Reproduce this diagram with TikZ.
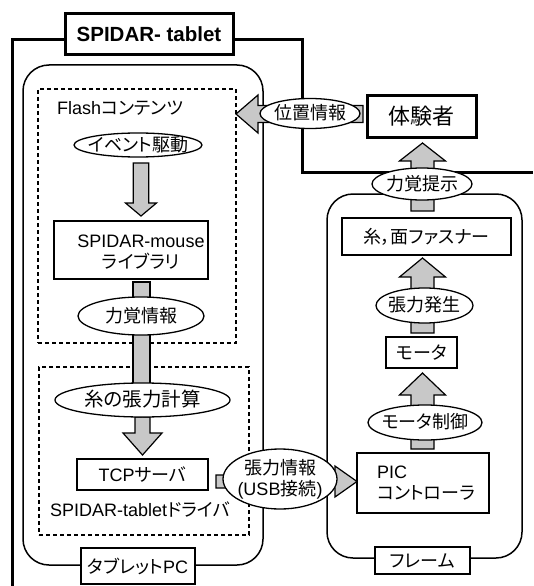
\documentclass[tikz,border=0pt]{standalone}
\usepackage{fontspec}
\setmainfont{Liberation Sans}
\newfontfamily\jp[RawFeature=+palt]{Noto Sans CJK JP}
\usetikzlibrary{shapes.geometric,calc}
\definecolor{agray}{RGB}{200,200,200}
\newcommand\J[1]{{\jp #1}}
\newcommand\zc[1]{\makebox[0pt]{\raisebox{-0.34em}[0pt][0pt]{\begin{tabular}{@{}c@{}}#1\end{tabular}}}}
% block arrow: start, end, shaft half width, head half width, head length
\newcommand\blockarrow[5]{%
  \path ($(#2)!#5!(#1)$) coordinate (#1-hb);
  \filldraw[arr] ($(#1)!#3!90:(#2)$) -- ($(#1-hb)!#3!90:(#2)$) -- ($(#1-hb)!#4!90:(#2)$) -- (#2)
    -- ($(#1-hb)!#4!-90:(#2)$) -- ($(#1-hb)!#3!-90:(#2)$) -- ($(#1)!#3!-90:(#2)$) -- cycle;}
% block shaft: start, end, half width
\newcommand\blockshaft[3]{%
  \filldraw[arr] ($(#1)!#3!90:(#2)$) -- ($(#2)!#3!-90:(#1)$) -- ($(#2)!#3!90:(#1)$) -- ($(#1)!#3!-90:(#2)$) -- cycle;}
\begin{document}
\begin{tikzpicture}[x=1pt,y=-1pt,
  every node/.style={font=\fontsize{18}{21}\selectfont, inner sep=0pt},
  box/.style={draw, line width=1.3pt, fill=white},
  thickbox/.style={draw, line width=3pt, fill=white},
  rbox/.style={draw, line width=1.5pt, rounded corners=26pt},
  dbox/.style={draw, line width=1.8pt, dash pattern=on 4pt off 3pt},
  oval/.style={ellipse, draw, line width=1.3pt, fill=white},
  arr/.style={fill=agray, draw=black, line width=1.2pt},
  heavy/.style={line width=3pt},
]
\useasboundingbox (0,0) rectangle (533,586);

% containers
\node[rbox, minimum width=240pt, minimum height=500pt] (pc) at (143,315) {};
\node[rbox, minimum width=195pt, minimum height=364pt] (frame) at (424.5,376) {};
\node[dbox, minimum width=198pt, minimum height=254pt] (flash) at (137,216) {};
\node[dbox, minimum width=210pt, minimum height=168pt] (driver) at (144,451) {};

% outer SPIDAR-tablet line
\coordinate (o1) at (12,586);
\coordinate (o2) at (12,40);
\coordinate (o3) at (65,40);
\coordinate (o4) at (233,40);
\coordinate (o5) at (302,40);
\coordinate (o6) at (302,172);
\coordinate (o7) at (533,172);
\draw[heavy] (o1) -- (o2) -- (o3);
\draw[heavy] (o4) -- (o5) -- (o6) -- (o7);

% arrow end points
\coordinate (a1s) at (141,163);   \coordinate (a1e) at (141,216);
\coordinate (a2s) at (141.5,282); \coordinate (a2e) at (141.5,388);
\coordinate (a3s) at (142.5,417); \coordinate (a3e) at (142.5,455);
\coordinate (a4s) at (363,114);   \coordinate (a4e) at (236,114);
\coordinate (a5s) at (216,481.5); \coordinate (a5e) at (357,481.5);
\coordinate (a6s) at (422.5,211); \coordinate (a6e) at (422.5,143);
\coordinate (a7s) at (422.5,333); \coordinate (a7e) at (422.5,258);
\coordinate (a8s) at (422.5,449); \coordinate (a8e) at (422.5,373);

\blockarrow{a1s}{a1e}{7.8pt}{15.5pt}{13pt}
\blockshaft{a2s}{a2e}{8.5pt}
\blockarrow{a3s}{a3e}{7.5pt}{19.5pt}{22pt}
\blockarrow{a4s}{a4e}{8.5pt}{19pt}{22pt}
\blockarrow{a5s}{a5e}{6.5pt}{15.5pt}{22pt}
\blockarrow{a6s}{a6e}{11.5pt}{23pt}{18pt}
\blockarrow{a7s}{a7e}{11.5pt}{23pt}{19pt}
\blockarrow{a8s}{a8e}{11.5pt}{23pt}{22pt}

% title
\node[thickbox, minimum width=168pt, minimum height=41pt,
      font=\fontsize{20.5}{24}\selectfont\bfseries] (title) at (149,34.5) {SPIDAR- tablet};

% left column
\node[anchor=west] (flashlbl) at (57,108) {Flash\J{コンテンツ}};
\node[oval, minimum width=128pt, minimum height=24pt] (ev) at (138,145) {\zc{\J{イベント駆動}}};
\node[box, minimum width=154pt, minimum height=58pt] (mouse) at (131,250) {};
\node[align=center] (mousetxt) at (141,252) {SPIDAR-mouse\\\J{ライブラリ}};
\node[oval, minimum width=126pt, minimum height=38pt] (force) at (141,316) {\zc{\J{力覚情報}}};
\node[oval, minimum width=175pt, minimum height=34pt, font=\fontsize{19.5}{22}\selectfont] (calc) at (142.5,400) {\zc{\J{糸の張力計算}}};
\node[box, minimum width=131pt, minimum height=31pt] (tcp) at (142.5,474.5) {TCP\J{サーバ}};
\node[anchor=west] (driverlbl) at (50,510) {SPIDAR-tablet\J{ドライバ}};
\node[box, minimum width=114pt, minimum height=36pt] (tabpc) at (138,566) {\J{タブレット}PC};

% right column
\node[thickbox, minimum width=109pt, minimum height=42pt, font=\fontsize{22}{26}\selectfont] (user) at (421.5,116) {\J{体験者}};
\node[oval, minimum width=100pt, minimum height=30pt] (pos) at (310,113.5) {\zc{\J{位置情報}}};
\node[oval, minimum width=100pt, minimum height=32pt] (present) at (422,184) {\zc{\J{力覚提示}}};
\node[box, minimum width=169pt, minimum height=37pt] (thread) at (426.5,236.5) {\J{糸，面ファスナー}};
\node[oval, minimum width=97pt, minimum height=35pt] (tension) at (424.5,305.5) {\zc{\J{張力発生}}};
\node[box, minimum width=71pt, minimum height=31pt] (motor) at (421.5,352.5) {\J{モータ}};
\node[oval, minimum width=114pt, minimum height=35pt] (mctrl) at (425,422.5) {\zc{\J{モータ制御}}};
\node[box, minimum width=132pt, minimum height=60pt] (pic) at (423,483) {};
\node[anchor=west, align=left] (pictxt) at (377,483) {PIC\\\J{コントローラ}};
\node[oval, minimum width=114pt, minimum height=60pt] (usb) at (280,479) {\zc{\J{張力情報}\\(USB\J{接続})}};
\node[box, minimum width=95pt, minimum height=27pt] (framelbl) at (422.5,560.5) {\J{フレーム}};
\end{tikzpicture}
\end{document}
